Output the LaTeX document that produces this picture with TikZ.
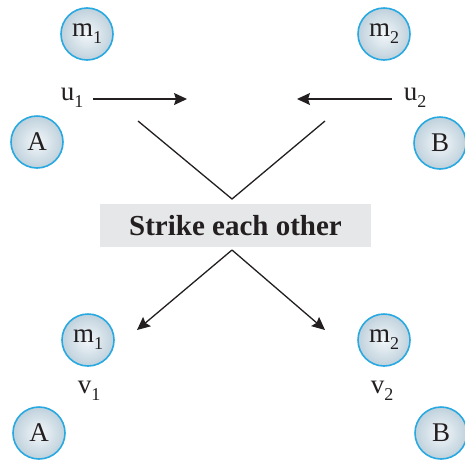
\documentclass[tikz,border=0pt]{standalone}
\usepackage{fontspec}
\setmainfont{Liberation Serif}
\usetikzlibrary{arrows.meta}

\definecolor{ballrim}{HTML}{29A9E1}
\definecolor{ballin}{HTML}{F3F7FA}
\definecolor{ballout}{HTML}{BFD1DC}
\definecolor{boxgray}{HTML}{E6E7E8}
\definecolor{ink}{HTML}{231F20}

\newcommand{\idx}[2]{#1\raisebox{-7pt}{\fontsize{18}{19}\selectfont #2}}

\begin{document}
\begin{tikzpicture}[x=1pt, y=-1pt,
  ball/.style = {circle, draw=ballrim, line width=1.6pt,
                 minimum size=52pt, inner sep=0pt,
                 inner color=ballin, outer color=ballout,
                 text=ink, font=\fontsize{27}{29}\selectfont},
   lbl/.style = {text=ink, inner sep=0pt,
                 font=\fontsize{27}{29}\selectfont},
  band/.style = {fill=boxgray, minimum width=271pt, minimum height=43pt,
                 inner sep=0pt, text=ink,
                 font=\fontsize{29}{31}\selectfont\bfseries},
   arr/.style = {draw=ink, line width=1.3pt,
                 -{Stealth[length=13pt,width=12pt,inset=2pt]}},
   lin/.style = {draw=ink, line width=1.3pt}
                        ]
\useasboundingbox (0,0) rectangle (465,464);
    % before the impact
\node (m1a) [ball] at (87,34)   {\idx{m}{1}};
\node (m2a) [ball] at (384,34)  {\idx{m}{2}};
\node (pa)  [ball] at (37,142)  {A};
\node (pb)  [ball] at (440,143) {B};
\node (u1)  [lbl]  at (72,98)   {\idx{u}{1}};
\node (u2)  [lbl]  at (415,98)  {\idx{u}{2}};
    % impact
\node (hit) [band] at (235.5,225.5) {Strike each other};
    % after the impact
\node (m1b) [ball] at (88,340)  {\idx{m}{1}};
\node (m2b) [ball] at (384,340) {\idx{m}{2}};
\node (v1)  [lbl]  at (89,391)  {\idx{v}{1}};
\node (v2)  [lbl]  at (382,391) {\idx{v}{2}};
\node (qa)  [ball] at (39,433)  {A};
\node (qb)  [ball] at (441,433) {B};
    % points
\coordinate (u1s) at (93,99);
\coordinate (u1e) at (187,99);
\coordinate (u2s) at (392,99);
\coordinate (u2e) at (297,99);
\coordinate (inl) at (138,121);
\coordinate (inr) at (325,121);
\coordinate (top) at (232,199);
\coordinate (bot) at (232,250);
\coordinate (outl) at (137,330);
\coordinate (outr) at (325,330);
    % arrows
\draw[arr] (u1s) -- (u1e);
\draw[arr] (u2s) -- (u2e);
\draw[lin] (inl) -- (top) -- (inr);
\draw[arr] (bot) -- (outl);
\draw[arr] (bot) -- (outr);
\end{tikzpicture}
\end{document}
